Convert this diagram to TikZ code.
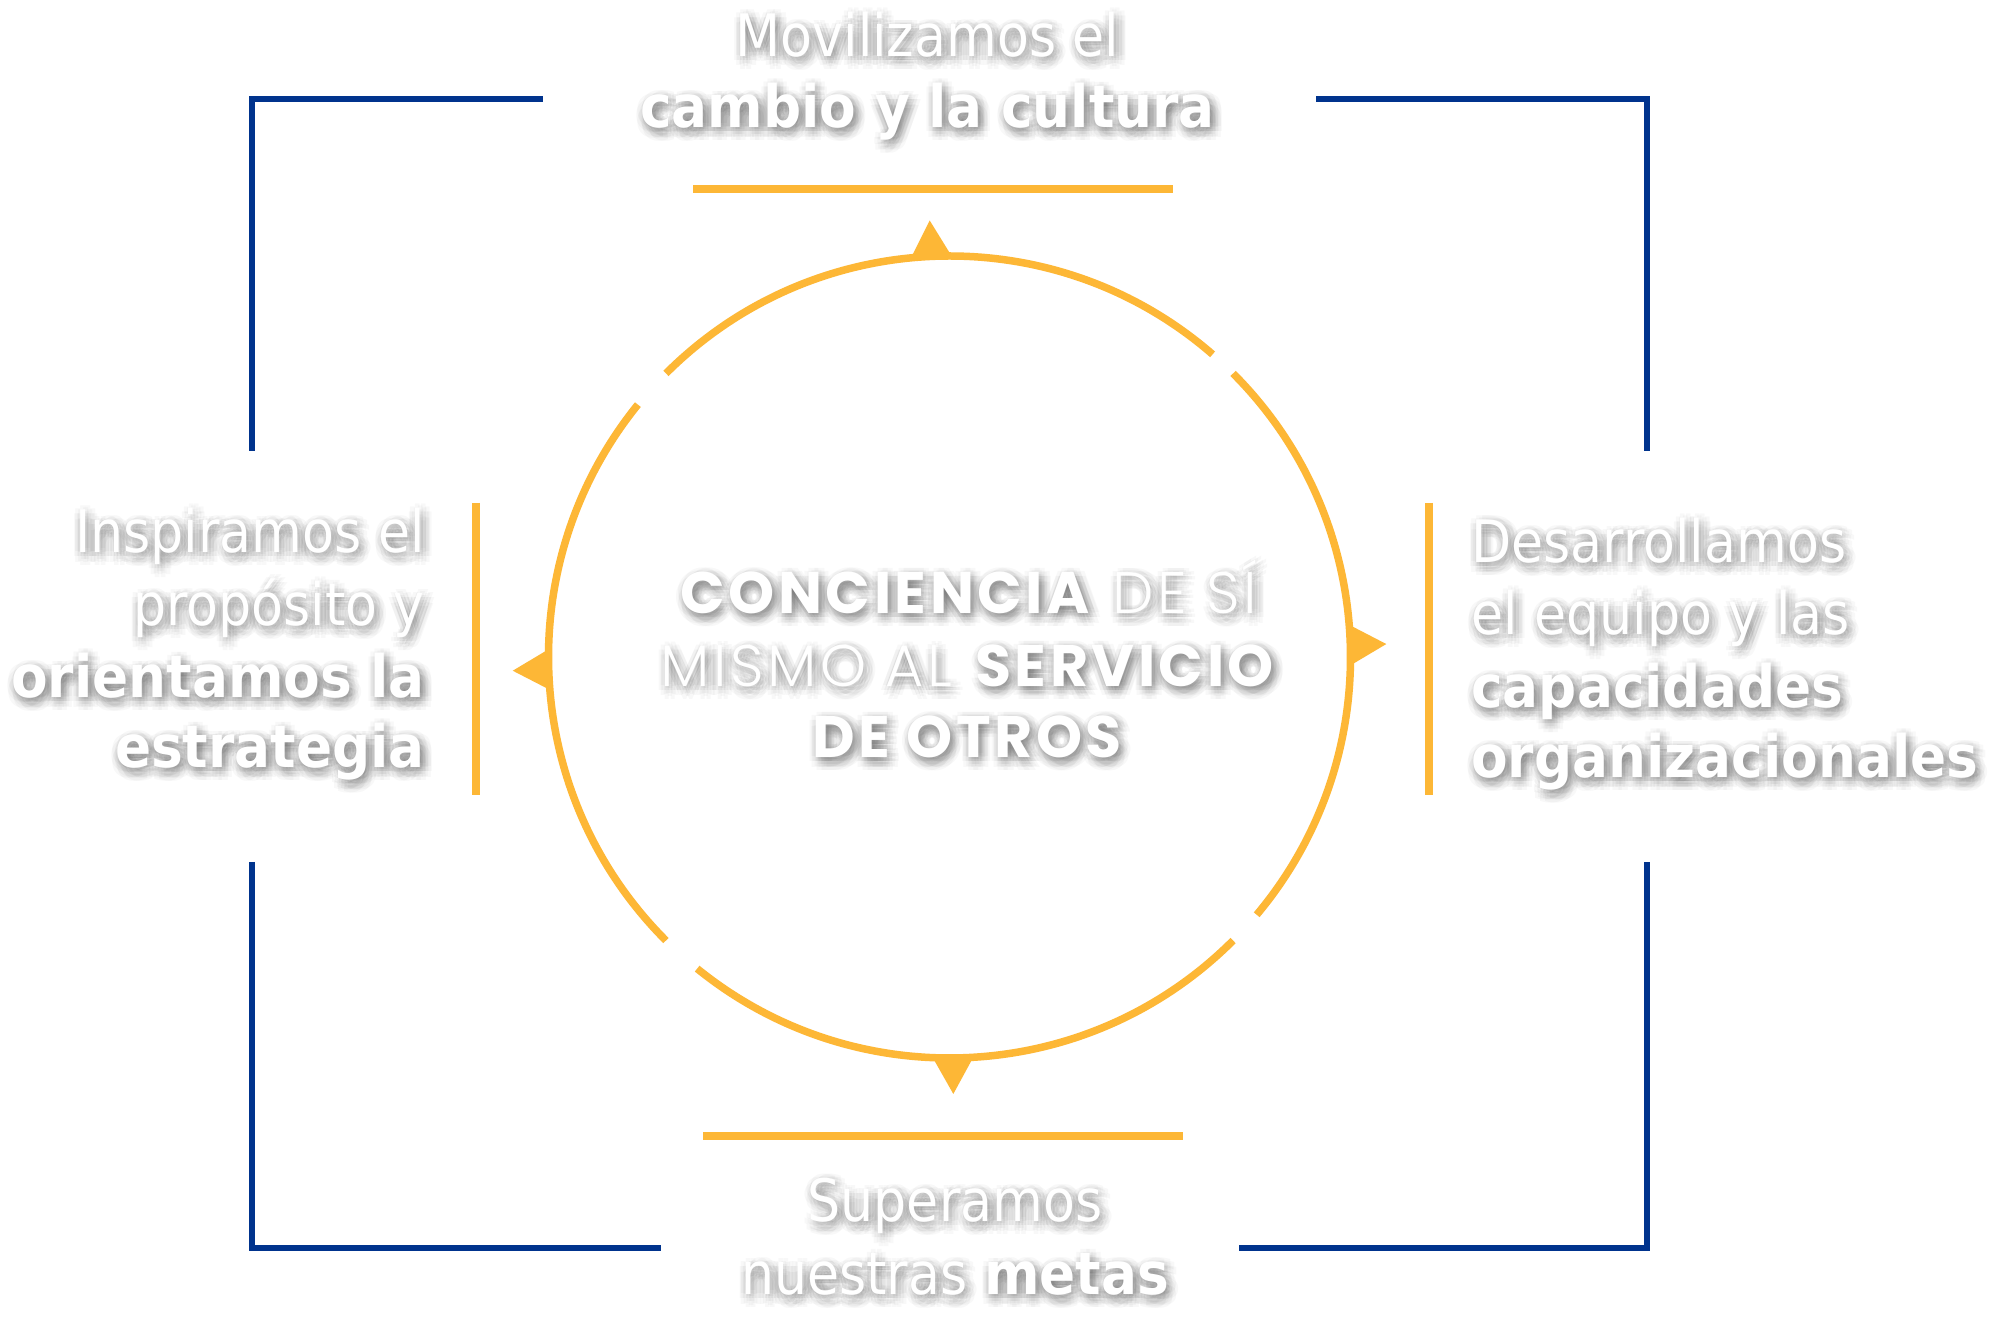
\documentclass[tikz,border=0pt]{standalone}
\usepackage{fontspec}
\setmainfont{DejaVu Sans}[FakeStretch=0.89, BoldFeatures={FakeStretch=0.91}]
\newfontfamily\popfont{Poppins}[UprightFont={* Light}, BoldFont={* Bold}, LetterSpace=6]
\definecolor{navy}{RGB}{0,51,141}
\definecolor{amber}{RGB}{253,183,54}
\tikzset{
  txt/.style={inner sep=0pt, font=\fontsize{58.6}{70}\selectfont},
  ctxt/.style={inner sep=0pt, font=\popfont\fontsize{58.6}{70}\selectfont},
  bracket/.style={draw=navy, line width=5.3pt, line join=miter},
  bar/.style={draw=amber, line width=7.5pt},
  ring/.style={draw=amber, line width=7.5pt},
  pointer/.style={fill=amber},
}
\newcommand\shtext[5]{%
  \foreach \dx/\dy in {3/-4,6/-4,4.5/-1.4,1.5/-1.4,0/-4,1.5/-6.6,4.5/-6.6,9/-4,7.2/0.2,3/2,-1.2/0.2,-3/-4,-1.2/-8.2,3/-10,7.2/-8.2,12/-4,10.3/1.3,5.8/4.6,0.2/4.6,-4.3/1.3,-6/-4,-4.3/-9.3,0.2/-12.6,5.8/-12.6,10.3/-9.3}{%
    \node[#1, anchor=#3, text=black, text opacity=0.028, xshift=\dx pt, yshift=\dy pt] at (#4) {#5};}
  \node[#1, anchor=#3, text=white] (#2) at (#4) {#5};
}
\begin{document}
\begin{tikzpicture}[x=1pt,y=1pt]
\useasboundingbox (0,0) rectangle (2000,1320);
\fill[white] (0,0) rectangle (2000,1320);
% blue brackets
\coordinate (tl1) at (252,869); \coordinate (tl2) at (252,1221); \coordinate (tl3) at (543,1221);
\coordinate (tr1) at (1316,1221); \coordinate (tr2) at (1647,1221); \coordinate (tr3) at (1647,869);
\coordinate (bl1) at (252,458); \coordinate (bl2) at (252,72); \coordinate (bl3) at (661,72);
\coordinate (br1) at (1239,72); \coordinate (br2) at (1647,72); \coordinate (br3) at (1647,458);
\draw[bracket] (tl1) -- (tl2) -- (tl3);
\draw[bracket] (tr1) -- (tr2) -- (tr3);
\draw[bracket] (bl1) -- (bl2) -- (bl3);
\draw[bracket] (br1) -- (br2) -- (br3);
% orange bars
\coordinate (tb1) at (693,1131); \coordinate (tb2) at (1173,1131);
\coordinate (bb1) at (703,184); \coordinate (bb2) at (1183,184);
\coordinate (lb1) at (476,817); \coordinate (lb2) at (476,525);
\coordinate (rb1) at (1429,817); \coordinate (rb2) at (1429,525);
\draw[bar] (tb1) -- (tb2);
\draw[bar] (bb1) -- (bb2);
\draw[bar] (lb1) -- (lb2);
\draw[bar] (rb1) -- (rb2);
% circle
\coordinate (ctr) at (949.5,663);
\draw[ring] ([shift={(49:401pt)}]ctr) arc[start angle=49, end angle=135, radius=401pt];
\draw[ring] ([shift={(141:401pt)}]ctr) arc[start angle=141, end angle=225, radius=401pt];
\draw[ring] ([shift={(231:401pt)}]ctr) arc[start angle=231, end angle=315, radius=401pt];
\draw[ring] ([shift={(320:401pt)}]ctr) arc[start angle=320, end angle=405, radius=401pt];
% pointers
\fill[pointer] ([shift={(92.6:437pt)}]ctr) -- ([shift={(95.5:401pt)}]ctr) -- ([shift={(89.7:401pt)}]ctr) -- cycle;
\fill[pointer] ([shift={(1.7:437pt)}]ctr) -- ([shift={(4.6:401pt)}]ctr) -- ([shift={(-1.2:401pt)}]ctr) -- cycle;
\fill[pointer] ([shift={(270.5:437pt)}]ctr) -- ([shift={(273.4:401pt)}]ctr) -- ([shift={(267.6:401pt)}]ctr) -- cycle;
\fill[pointer] ([shift={(181.8:437pt)}]ctr) -- ([shift={(184.7:401pt)}]ctr) -- ([shift={(178.9:401pt)}]ctr) -- cycle;
% texts
\shtext{txt}{top1}{base}{927.5,1263.3}{Movilizamos el}
\shtext{txt}{top2}{base}{927.5,1192}{\bfseries cambio y la cultura}
\shtext{txt}{left1}{base east}{425,767}{Inspiramos el}
\shtext{txt}{left2}{base east}{425,694}{propósito y}
\shtext{txt}{left3}{base east}{425,622}{\bfseries orientamos la}
\shtext{txt}{left4}{base east}{425,552}{\bfseries estrategia}
\shtext{txt}{right1}{base west}{1471,757}{Desarrollamos}
\shtext{txt}{right2}{base west}{1471,685}{el equipo y las}
\shtext{txt}{right3}{base west}{1471,612}{\bfseries capacidades}
\shtext{txt}{right4}{base west}{1471,542}{\bfseries organizacionales}
\shtext{txt}{bot1}{base}{955,98}{Superamos}
\shtext{txt}{bot2}{base}{955,25}{nuestras \textbf{metas}}
\shtext{ctxt}{mid1}{base}{969,706}{\textbf{CONCIENCIA} DE SÍ}
\shtext{ctxt}{mid2}{base}{969,633.3}{MISMO AL \textbf{SERVICIO}}
\shtext{ctxt}{mid3}{base}{969,562}{\textbf{DE OTROS}}
\end{tikzpicture}
\end{document}
